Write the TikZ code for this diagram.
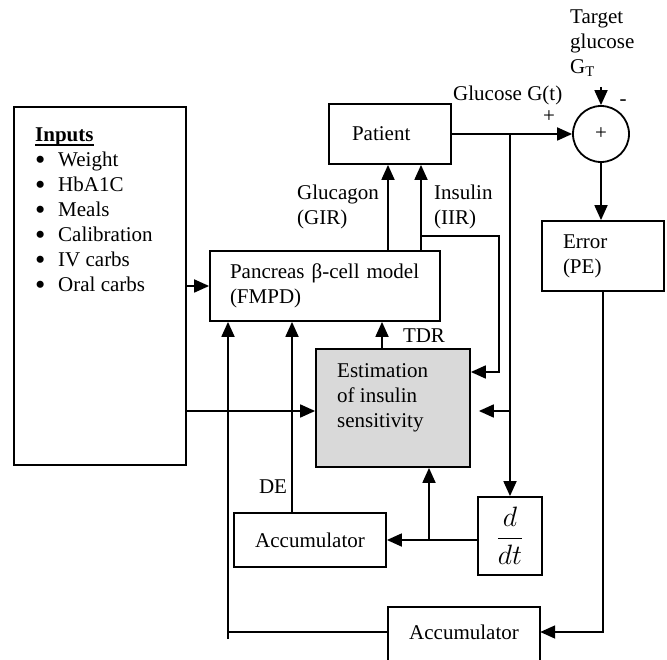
\documentclass[tikz,border=0pt]{standalone}
\usepackage{fontspec}
\setmainfont{Liberation Serif}
\usetikzlibrary{arrows.meta,calc}
\definecolor{estgray}{RGB}{217,217,217}
\newcommand{\listbullet}{\makebox[23pt][l]{\smash{\raisebox{-0.13em}{\scalebox{1.4}{\textbullet}}}}}
\newcommand{\thickunder}[1]{\sbox0{#1}\rlap{\rule[-4pt]{\wd0}{2pt}}\usebox0}
\begin{document}
\begin{tikzpicture}[x=1pt,y=-1pt,
  every node/.style={font=\fontsize{21}{25}\selectfont, inner sep=0pt},
  box/.style={draw, line width=1.8pt, rectangle},
  wire/.style={line width=1.8pt},
  arr/.style={wire, -{Triangle[length=15pt,width=13pt]}},
  lbl/.style={align=left}]
\useasboundingbox (0,0) rectangle (667,660);
\clip (0,0) rectangle (667,660);

% ---- blocks ----
\node[box, minimum width=172pt, minimum height=358pt] (inputs) at (100,286) {};
\node[lbl, anchor=west] (inlist) at (35,210)
  {\thickunder{\textbf{Inputs}}\\
   \listbullet Weight\\
   \listbullet HbA1C\\
   \listbullet Meals\\
   \listbullet Calibration\\
   \listbullet IV carbs\\
   \listbullet Oral carbs};

\node[box, minimum width=122pt, minimum height=60pt, text width=76pt, align=left]
  (patient) at (390,134) {Patient};
\node[box, minimum width=230pt, minimum height=70pt, text width=190pt, align=left]
  (pancreas) at (325,286) {Pancreas β-cell model\\(FMPD)};
\node[box, minimum width=122pt, minimum height=70pt, text width=80pt, align=left]
  (error) at (603,256) {Error\\(PE)};
\node[box, fill=estgray, minimum width=154pt, minimum height=118pt] (est) at (393,408) {};
\node[lbl, anchor=west] (esttxt) at (337,398) {Estimation\\of insulin\\sensitivity};
\node[box, minimum width=152pt, minimum height=54pt] (acc1) at (310,540) {Accumulator};
\node[box, minimum width=64pt, minimum height=78pt] (ddt) at (510,536)
  {\scalebox{1.35}{$\displaystyle\frac{d}{dt}$}};
\node[minimum width=152pt, minimum height=50pt] (acc2) at (464,632) {Accumulator};
\draw[wire] ([yshift=-40pt]acc2.south west) -- (acc2.north west)
  -- (acc2.north east) -- ([yshift=-40pt]acc2.south east);
\node[draw, circle, line width=1.8pt, minimum size=56pt] (sum) at (601,134) {+};

% ---- labels ----
\node[lbl, anchor=west] (target) at (570,43) {Target\\glucose\\G\textsubscript{T}};
\node[anchor=west] (glabel) at (453,95) {Glucose G(t)};
\node (plusin) at (549,117) {+};
\node (minusin) at (623,103) {-};
\node[lbl, anchor=west] (gcglabel) at (297,207) {Glucagon\\(GIR)};
\node[lbl, anchor=west] (inslabel) at (434,207) {Insulin\\(IIR)};
\node (tdrlabel) at (424,336) {TDR};
\node (delabel) at (273,487) {DE};

% ---- helper coordinates ----
\coordinate (gx) at (388,0);
\coordinate (ix) at (421,0);
\coordinate (itap) at (421,236);
\coordinate (icorner) at (499,236);
\coordinate (ein1) at ([yshift=36pt]est.east);
\coordinate (ein2) at ([yshift=-3pt]est.east);
\coordinate (tgtfoot) at (601,87);
\coordinate (lfoot) at (228,639);
\coordinate (dex) at (292,0);
\coordinate (tdx) at (382,0);
\coordinate (bx) at (429,0);

% ---- connectors ----
\draw[arr] (inputs.east |- pancreas.west) -- (pancreas.west);
\draw[arr] (inputs.east |- ein2) -- (est.west |- ein2);
\draw[arr] (pancreas.north -| gx) -- (patient.south -| gx);
\draw[arr] (pancreas.north -| ix) -- (patient.south -| ix);
\draw[arr] (itap) -- (icorner) |- (ein1);
\draw[arr] (patient.east) -- (sum.west);
\draw[arr] (tgtfoot) -- (sum.north);
\draw[arr] (ddt.north |- patient.east) -- (ddt.north);
\draw[arr, shorten >=8pt] (ddt.north |- ein2) -- (ein2);
\draw[arr] (sum.south) -- (error.north -| sum.south);
\draw[arr] (error.south) |- (acc2.east);
\draw[wire] (acc2.west) -- (acc2.west -| lfoot);
\draw[arr] (lfoot) -- (pancreas.south -| lfoot);
\draw[arr] (acc1.north -| dex) -- (pancreas.south -| dex);
\draw[arr] (est.north -| tdx) -- (pancreas.south -| tdx);
\draw[arr] (ddt.west |- acc1.east) -- (acc1.east);
\draw[arr] (acc1.east -| bx) -- (est.south -| bx);
\end{tikzpicture}
\end{document}
